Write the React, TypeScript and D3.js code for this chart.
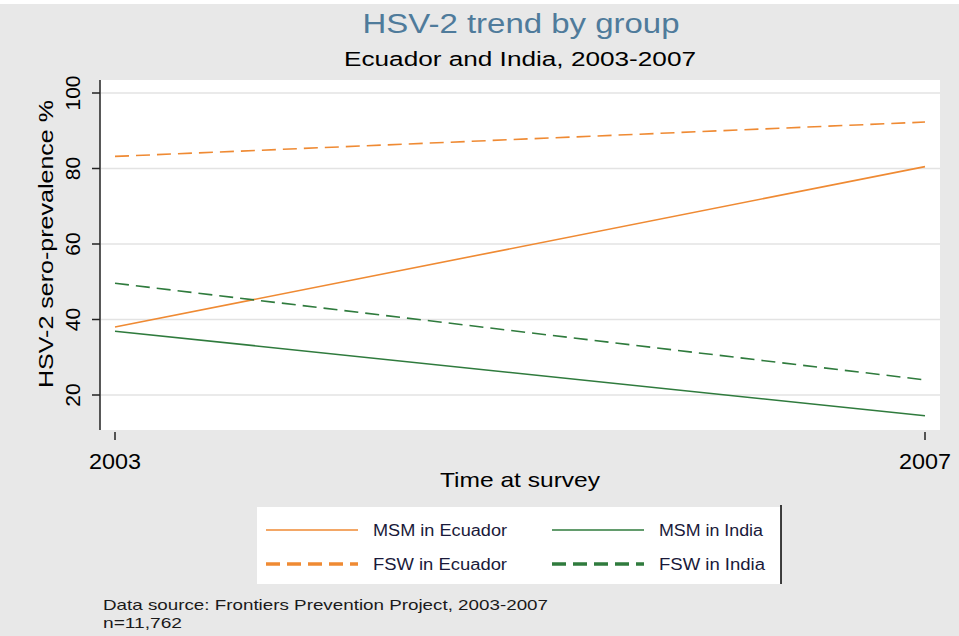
import React from "react";
import * as d3 from "d3";

const years = [2003, 2007];
const msmEcuador = [38.0, 80.5];
const fswEcuador = [83.2, 92.3];
const msmIndia = [36.9, 14.5];
const fswIndia = [49.6, 24.0];
const yTicks = [20, 40, 60, 80, 100];
const xTicks = [2003, 2007];

const ORANGE = "#ef8a33";
const GREEN = "#2f7b3d";

const series = [
  { name: "MSM in Ecuador", values: msmEcuador, color: ORANGE, dashed: false, tl: 134 },
  { name: "MSM in India", values: msmIndia, color: GREEN, dashed: false, tl: 104 },
  { name: "FSW in Ecuador", values: fswEcuador, color: ORANGE, dashed: true, tl: 134 },
  { name: "FSW in India", values: fswIndia, color: GREEN, dashed: true, tl: 106 },
];

export default function App() {
  const W = 959, H = 636;
  const plotL = 100, plotR = 940, plotT = 80, plotB = 430;
  const x = d3.scaleLinear().domain([2003, 2007]).range([115, 925]);
  const y = d3.scaleLinear().domain([20, 100]).range([395, 93]);
  const line = d3.line<number>().x((_, i) => x(years[i])).y((d) => y(d));
  const font = "'Liberation Sans', Arial, sans-serif";
  const adj = "spacingAndGlyphs";

  const legendX = 257, legendY = 507, legendW = 524, legendH = 77;
  const rowY = [530, 564];
  const colX = [266, 552];

  return (
    <div style={{ position: "absolute", left: 0, top: 0 }}>
      <svg width={W} height={H} style={{ display: "block" }} fontFamily={font}>
        <rect x={0} y={0} width={W} height={H} fill="#e8e8e8" />
        <rect x={0} y={0} width={W} height={4} fill="#ffffff" />
        <text x={521} y={33} textAnchor="middle" fontSize={27} fill="#4f7b9b" textLength={317} lengthAdjust={adj}>HSV-2 trend by group</text>
        <text x={520} y={66} textAnchor="middle" fontSize={20} fill="#000" textLength={352} lengthAdjust={adj}>Ecuador and India, 2003-2007</text>

        <rect x={plotL} y={plotT} width={plotR - plotL} height={plotB - plotT} fill="#ffffff" />
        {yTicks.map((t) => (
          <line key={"g" + t} x1={plotL + 1} x2={plotR} y1={y(t)} y2={y(t)} stroke="#e3e3e3" strokeWidth={1.5} />
        ))}
        <line x1={plotL} x2={plotL} y1={plotT} y2={plotB} stroke="#222" strokeWidth={1.5} />
        {yTicks.map((t) => (
          <g key={"t" + t}>
            <line x1={plotL - 8} x2={plotL} y1={y(t)} y2={y(t)} stroke="#222" strokeWidth={1.5} />
            <text transform={`translate(80,${y(t)}) rotate(-90)`} textAnchor="middle" fontSize={21} fill="#000">{t}</text>
          </g>
        ))}
        <text transform={`translate(53,244) rotate(-90)`} textAnchor="middle" fontSize={21} fill="#000" textLength={288} lengthAdjust={adj}>HSV-2 sero-prevalence %</text>
        {xTicks.map((t) => (
          <g key={"x" + t}>
            <line x1={x(t)} x2={x(t)} y1={plotB + 2} y2={plotB + 10} stroke="#222" strokeWidth={1.5} />
            <text x={x(t)} y={469} textAnchor="middle" fontSize={22} fill="#000" textLength={52} lengthAdjust={adj}>{t}</text>
          </g>
        ))}
        <text x={520} y={487} textAnchor="middle" fontSize={21} fill="#000" textLength={160} lengthAdjust={adj}>Time at survey</text>

        {series.map((s) => (
          <path key={s.name} d={line(s.values) || ""} fill="none" stroke={s.color} strokeWidth={1.6}
            strokeDasharray={s.dashed ? "14 7" : undefined} />
        ))}

        <rect x={legendX} y={legendY} width={legendW} height={legendH} fill="#ffffff" />
        <line x1={legendX + legendW} x2={legendX + legendW} y1={legendY - 2} y2={legendY + legendH} stroke="#000" strokeWidth={1.5} />
        {series.map((s, i) => {
          const cx = colX[i % 2];
          const cy = rowY[Math.floor(i / 2)];
          return (
            <g key={"l" + s.name}>
              <line x1={cx} x2={cx + 92} y1={cy} y2={cy} stroke={s.color}
                strokeWidth={s.dashed ? 3.5 : 1.5} strokeDasharray={s.dashed ? "14 7" : undefined} />
              <text x={cx + 107} y={cy + 6} fontSize={16} fill="#1a1a3a" textLength={s.tl} lengthAdjust={adj}>{s.name}</text>
            </g>
          );
        })}

        <text x={103} y={610} fontSize={15} fill="#1a1a1a" textLength={445} lengthAdjust={adj}>Data source:  Frontiers Prevention Project, 2003-2007</text>
        <text x={103} y={628} fontSize={15} fill="#1a1a1a" textLength={79} lengthAdjust={adj}>n=11,762</text>
      </svg>
    </div>
  );
}
